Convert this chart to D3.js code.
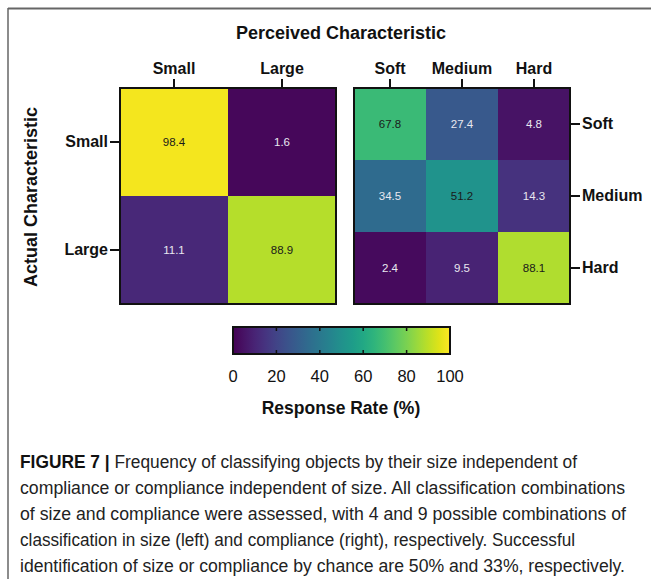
<!DOCTYPE html>
<html>
<head>
<meta charset="utf-8">
<script src="https://cdn.jsdelivr.net/npm/d3@7"></script>
<style>
  html, body { margin: 0; padding: 0; background: #fff; }
  svg { display: block; }
</style>
</head>
<body>
<svg id="fig" width="651" height="579"></svg>
<script>
// Size classification (rows = actual, columns = perceived), response rate in %
const sizeCategories = ["Small", "Large"];
const sizeValues = [
  [98.4, 1.6],
  [11.1, 88.9]
];

// Compliance classification (rows = actual, columns = perceived), response rate in %
const complianceCategories = ["Soft", "Medium", "Hard"];
const complianceValues = [
  [67.8, 27.4, 4.8],
  [34.5, 51.2, 14.3],
  [2.4, 9.5, 88.1]
];

const colorbarTicks = [0, 20, 40, 60, 80, 100];

const captionLines = [
  { bold: "FIGURE 7 |", text: " Frequency of classifying objects by their size independent of", width: 557 },
  { bold: "", text: "compliance or compliance independent of size. All classification combinations", width: 605 },
  { bold: "", text: "of size and compliance were assessed, with 4 and 9 possible combinations of", width: 606 },
  { bold: "", text: "classification in size (left) and compliance (right), respectively. Successful", width: 555 },
  { bold: "", text: "identification of size or compliance by chance are 50% and 33%, respectively.", width: 605 }
];

const svg = d3.select("#fig");
const FONT = "'Liberation Sans', Arial, Helvetica, sans-serif";
const color = d3.scaleSequential(d3.interpolateViridis).domain([0, 100]);

// Page frame (top and left rules)
svg.append("line").attr("x1", 8).attr("x2", 651).attr("y1", 8.5).attr("y2", 8.5)
  .attr("stroke", "#666").attr("stroke-width", 2);
svg.append("line").attr("x1", 8).attr("x2", 8).attr("y1", 8).attr("y2", 579)
  .attr("stroke", "#666").attr("stroke-width", 1.5);

// Main title
svg.append("text")
  .attr("x", 341).attr("y", 39)
  .attr("text-anchor", "middle")
  .attr("font-family", FONT).attr("font-weight", "bold").attr("font-size", 18)
  .attr("fill", "#111")
  .text("Perceived Characteristic");

// Y title
svg.append("text")
  .attr("transform", "translate(37,197) rotate(-90)")
  .attr("text-anchor", "middle")
  .attr("font-family", FONT).attr("font-weight", "bold").attr("font-size", 18)
  .attr("fill", "#111")
  .text("Actual Characteristic");

function heatmap(g, cats, values, size, yAxisSide) {
  const x = d3.scaleBand().domain(cats).range([0, size]);
  const y = d3.scaleBand().domain(cats).range([0, size]);
  const cells = [];
  values.forEach((row, i) => row.forEach((v, j) => cells.push({ r: cats[i], c: cats[j], v })));

  g.selectAll("rect.cell").data(cells).join("rect")
    .attr("class", "cell")
    .attr("x", d => x(d.c)).attr("y", d => y(d.r))
    .attr("width", x.bandwidth()).attr("height", y.bandwidth())
    .attr("fill", d => color(d.v));

  g.selectAll("text.val").data(cells).join("text")
    .attr("class", "val")
    .attr("x", d => x(d.c) + x.bandwidth() / 2)
    .attr("y", d => y(d.r) + y.bandwidth() / 2)
    .attr("dy", "0.35em")
    .attr("text-anchor", "middle")
    .attr("font-family", FONT).attr("font-size", 11.5)
    .attr("fill", d => d.v > 45 ? "#1a1a1a" : "#e8e8f0")
    .text(d => d.v.toFixed(1));

  g.append("rect")
    .attr("x", 0).attr("y", 0).attr("width", size).attr("height", size)
    .attr("fill", "none").attr("stroke", "#111").attr("stroke-width", 2);

  const top = g.append("g").call(d3.axisTop(x).tickSize(9).tickPadding(5));
  const side = g.append("g")
    .attr("transform", yAxisSide === "right" ? `translate(${size},0)` : null)
    .call((yAxisSide === "right" ? d3.axisRight(y) : d3.axisLeft(y)).tickSize(10).tickPadding(2));
  [top, side].forEach(a => {
    a.select(".domain").remove();
    a.selectAll(".tick line").attr("stroke", "#111").attr("stroke-width", 2);
    a.selectAll(".tick text")
      .attr("font-family", FONT).attr("font-weight", "bold").attr("font-size", 16)
      .attr("fill", "#111");
  });
}

heatmap(svg.append("g").attr("transform", "translate(120,88)"), sizeCategories, sizeValues, 216, "left");
heatmap(svg.append("g").attr("transform", "translate(354,88)"), complianceCategories, complianceValues, 216, "right");

// Colour bar
const cb = { x: 233, y: 327, w: 217, h: 27 };
const defs = svg.append("defs");
const grad = defs.append("linearGradient").attr("id", "viridisGrad");
d3.range(0, 1.0001, 0.05).forEach(t => {
  grad.append("stop").attr("offset", t).attr("stop-color", d3.interpolateViridis(t));
});
const cbScale = d3.scaleLinear().domain([0, 100]).range([cb.x, cb.x + cb.w]);
svg.append("rect")
  .attr("x", cb.x).attr("y", cb.y).attr("width", cb.w).attr("height", cb.h)
  .attr("fill", "url(#viridisGrad)");
const inner = colorbarTicks.slice(1, -1);
svg.selectAll("line.cbt").data(inner).join("line")
  .attr("class", "cbt")
  .attr("x1", d => cbScale(d)).attr("x2", d => cbScale(d))
  .attr("y1", cb.y).attr("y2", cb.y + 4)
  .attr("stroke", "#111").attr("stroke-width", 1.5);
svg.selectAll("line.cbb").data(inner).join("line")
  .attr("class", "cbb")
  .attr("x1", d => cbScale(d)).attr("x2", d => cbScale(d))
  .attr("y1", cb.y + cb.h - 4).attr("y2", cb.y + cb.h)
  .attr("stroke", "#111").attr("stroke-width", 1.5);
svg.append("rect")
  .attr("x", cb.x).attr("y", cb.y).attr("width", cb.w).attr("height", cb.h)
  .attr("fill", "none").attr("stroke", "#111").attr("stroke-width", 2);
svg.selectAll("text.cbl").data(colorbarTicks).join("text")
  .attr("class", "cbl")
  .attr("x", d => cbScale(d)).attr("y", 382)
  .attr("text-anchor", "middle")
  .attr("font-family", FONT).attr("font-size", 16.5)
  .attr("fill", "#111")
  .text(d => d);
svg.append("text")
  .attr("x", 341).attr("y", 414)
  .attr("text-anchor", "middle")
  .attr("font-family", FONT).attr("font-weight", "bold").attr("font-size", 17.5)
  .attr("fill", "#111")
  .text("Response Rate (%)");

// Caption
captionLines.forEach((ln, i) => {
  const t = svg.append("text")
    .attr("x", 20).attr("y", 468 + i * 26)
    .attr("font-family", FONT).attr("font-size", 17.5)
    .attr("fill", "#222")
    .attr("textLength", ln.width).attr("lengthAdjust", "spacingAndGlyphs");
  if (ln.bold) t.append("tspan").attr("font-weight", "bold").attr("fill", "#111").text(ln.bold);
  t.append("tspan").text(ln.text);
});
</script>
</body>
</html>
